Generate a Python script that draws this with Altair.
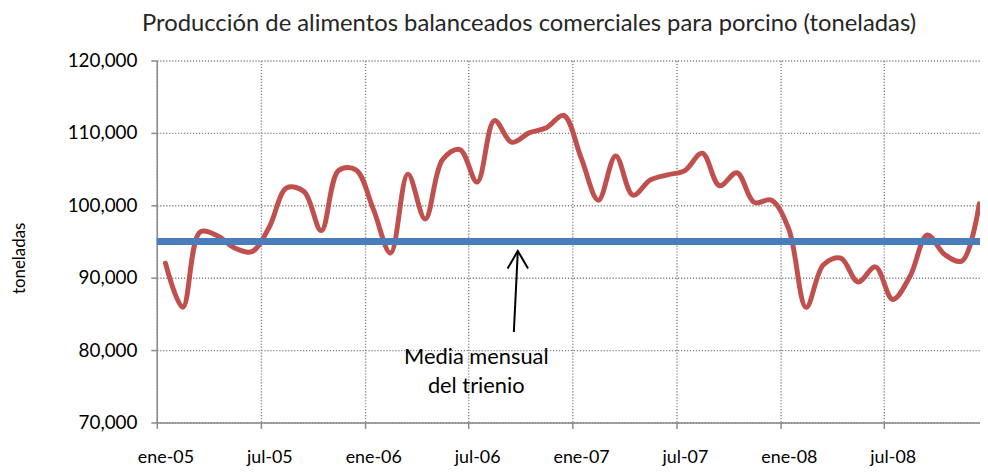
import json
import altair as alt
import pandas as pd

# ---- data -------------------------------------------------------------
meses = ["ene", "feb", "mar", "abr", "may", "jun",
         "jul", "ago", "sep", "oct", "nov", "dic"]
anios = ["05", "06", "07", "08"]
categorias = [f"{m}-{a}" for a in anios for m in meses]

toneladas = [
    92000, 85900, 96300, 95800, 94100, 93600, 97000, 102400, 101900, 96500, 104800, 104900,
    99500, 93400, 104300, 98100, 106300, 107700, 103200, 111700, 108700, 110000, 110700, 112400,
    106600, 100700, 106800, 101400, 103500, 104200, 104800, 107200, 102700, 104500, 100400, 100700,
    96700, 85900, 91800, 92700, 89400, 91500, 87000, 90200, 95900, 93200, 92300, 100200,
]
media_mensual = 95000

etiquetas_x = ["ene-05", "jul-05", "ene-06", "jul-06", "ene-07", "jul-07", "ene-08", "jul-08"]
limites_x = [-0.5 + 6 * k for k in range(8)]          # category boundaries (ticks / grid)
valores_y = [70000, 80000, 90000, 100000, 110000, 120000]

anotacion = ["Media mensual", "del trienio"]
flecha_x, flecha_x2 = 20.12, 20.35
flecha_y, flecha_y2 = 82500, 93700
texto_x, texto_y = 17.95, 78100

df = pd.DataFrame({"idx": list(range(len(categorias))), "mes": categorias, "ton": toneladas})

# ---- styling ------------------------------------------------------------
FONT = "Lato"
GRID = "#808080"
AXIS = "#8a8a8a"
W, H = 830, 365

x_scale = alt.Scale(domain=[-0.5, 47.04], nice=False, zero=False)
y_scale = alt.Scale(domain=[70000, 120000], nice=False, zero=False)

label_expr = f"{json.dumps(etiquetas_x)}[round((datum.value + 0.5) / 6)]"

x_axis = alt.Axis(
    values=limites_x, labelExpr=label_expr, labelOffset=8.73,
    grid=True, gridDash=[1.2, 1.8], gridColor=GRID, gridWidth=1.4,
    ticks=True, tickSize=6, tickColor=AXIS, tickWidth=1.5,
    domainColor=AXIS, domainWidth=1.5,
    labelFont=FONT, labelFontSize=18, labelColor="#000000",
    labelPadding=20, labelOverlap=False, labelBound=False, labelFlush=False,
    title=None,
)
y_axis = alt.Axis(
    values=valores_y, format=",.0f",
    grid=True, gridDash=[1.2, 1.8], gridColor=GRID, gridWidth=1.4,
    ticks=True, tickSize=6, tickColor=AXIS, tickWidth=1.5,
    domainColor=AXIS, domainWidth=1.5,
    labelFont=FONT, labelFontSize=19, labelColor="#000000", labelPadding=14,
    title="toneladas", titleFont=FONT, titleFontSize=17, titleFontWeight="normal",
    titleColor="#000000", titleX=-138, titleY=258 - 59, titleAngle=-90,
    titleBaseline="middle", titleAlign="center",
)

def X(field):
    return alt.X(field, scale=x_scale, axis=x_axis)

def Y(field):
    return alt.Y(field, scale=y_scale, axis=y_axis)

linea = alt.Chart(df).mark_line(
    color="#C0504D", strokeWidth=5, interpolate="catmull-rom", strokeCap="round"
).encode(x=X("idx:Q"), y=Y("ton:Q"))

media = alt.Chart(pd.DataFrame({"media": [media_mensual]})).mark_rule(
    color="#4A7EBB", strokeWidth=7
).encode(y=Y("media:Q"))

flecha_df = pd.DataFrame({"x": [flecha_x], "x2": [flecha_x2], "y": [flecha_y], "y2": [flecha_y2]})
flecha = alt.Chart(flecha_df).mark_rule(color="#000000", strokeWidth=2).encode(
    x=X("x:Q"), x2="x2:Q", y=Y("y:Q"), y2="y2:Q",
)
punta = alt.Chart(flecha_df).mark_point(
    shape="M-0.55,0.95L0,0L0.55,0.95", filled=False, color="#000000",
    strokeWidth=2, size=1400, opacity=1,
).encode(x=X("x2:Q"), y=Y("y2:Q"))

texto = alt.Chart(pd.DataFrame({"x": [texto_x], "y": [texto_y], "t": [anotacion]})).mark_text(
    font=FONT, fontSize=22, color="#000000", align="center", baseline="alphabetic",
    lineHeight=29,
).encode(x=X("x:Q"), y=Y("y:Q"), text="t")

chart = alt.layer(linea, media, flecha, punta, texto).properties(
    width=W, height=H,
    title=alt.TitleParams(
        "Producción de alimentos balanceados comerciales para porcino (toneladas)",
        font=FONT, fontSize=24, fontWeight="normal", color="#262626",
        anchor="start", frame="group", dx=-15, offset=16,
    ),
    autosize=alt.AutoSizeParams(type="none"),
    padding={"left": 150, "top": 51, "right": 0, "bottom": 48},
).configure_view(stroke=None)

chart.save("out.html", embed_options={"renderer": "svg", "actions": False})
